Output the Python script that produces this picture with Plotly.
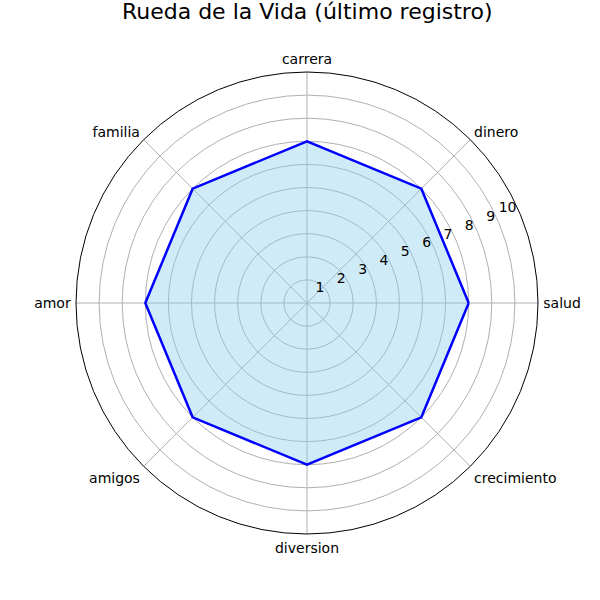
import plotly.graph_objects as go

categories = ["salud", "dinero", "carrera", "familia", "amor", "amigos", "diversion", "crecimiento"]
values = [7, 7, 7, 7, 7, 7, 7, 7]
radial_ticks = [1, 2, 3, 4, 5, 6, 7, 8, 9, 10]

theta = categories + categories[:1]
r = values + values[:1]

fig = go.Figure()
fig.add_trace(go.Scatterpolar(
    r=r, theta=theta, mode="lines", fill="toself",
    fillcolor="rgba(135,206,235,0.4)",
    line=dict(color="blue", width=2.5),
    showlegend=False,
))

fig.update_layout(
    width=600, height=600,
    margin=dict(l=76, r=62, t=72, b=66),
    paper_bgcolor="white",
    font=dict(family="DejaVu Sans", size=14, color="black"),
    title=dict(text="Rueda de la Vida (último registro)", x=0.512, xanchor="center",
               y=0.982, yanchor="middle", font=dict(size=22, family="DejaVu Sans")),
    polar=dict(
        bgcolor="white",
        radialaxis=dict(range=[0, 10], tickvals=radial_ticks, ticktext=[str(t) for t in radial_ticks],
                        angle=22.5, tickangle=22.5, side="counterclockwise",
                        showline=False, ticks="",
                        gridcolor="#b0b0b0", gridwidth=1, layer="above traces",
                        tickfont=dict(size=14)),
        angularaxis=dict(rotation=0, direction="counterclockwise", showline=True,
                         linecolor="black", linewidth=1, ticks="outside", ticklen=2,
                         tickcolor="rgba(0,0,0,0)",
                         gridcolor="#b0b0b0", gridwidth=1, layer="above traces",
                         tickfont=dict(size=14)),
    ),
)

fig.write_html("out.html")
